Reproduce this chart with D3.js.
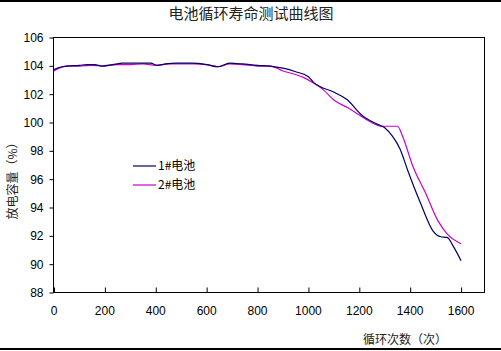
<!DOCTYPE html>
<html>
<head>
<meta charset="utf-8">
<script src="https://cdn.jsdelivr.net/npm/d3@7"></script>
<style>
  body { margin: 0; background: #fff; }
  svg { display: block; }
</style>
</head>
<body>
<svg id="chart" width="501" height="351"></svg>
<script>
// data
const title = "电池循环寿命测试曲线图"
const xTitle = "循环次数（次）"
const yTitle = "放电容量（%）"
const seriesNames = ["1#电池", "2#电池"]
const seriesColors = ["#000066", "#cc00cc"]

const cycles1 = [0, 20, 50, 100, 130, 160, 190, 230, 270, 320, 380, 405, 440, 480, 540, 600, 645, 690, 740, 800, 850, 900, 950, 1000, 1020, 1045, 1095, 1150, 1215, 1270, 1300, 1330, 1360, 1390, 1440, 1490, 1520, 1545, 1570, 1600]
const capacity1 = [103.7, 103.85, 103.95, 104.0, 104.05, 104.05, 103.95, 104.05, 104.15, 104.15, 104.15, 104.0, 104.1, 104.15, 104.15, 104.05, 103.9, 104.15, 104.1, 104.0, 103.95, 103.8, 103.55, 103.2, 102.8, 102.5, 102.15, 101.6, 100.4, 99.85, 99.6, 99.0, 98.1, 96.6, 94.3, 92.3, 91.9, 91.85, 91.2, 90.2]

const cycles2 = [0, 20, 50, 100, 150, 190, 250, 300, 350, 400, 450, 500, 550, 600, 645, 690, 740, 800, 850, 900, 950, 980, 1020, 1060, 1100, 1155, 1200, 1240, 1290, 1350, 1370, 1410, 1460, 1510, 1545, 1600]
const capacity2 = [103.6, 103.8, 103.95, 103.95, 104.0, 103.95, 104.05, 104.05, 104.1, 104.0, 104.1, 104.1, 104.1, 104.05, 103.9, 104.1, 104.05, 103.95, 103.95, 103.6, 103.35, 103.15, 102.75, 102.25, 101.55, 101.0, 100.5, 100.05, 99.7, 99.7, 99.0, 96.9, 95.0, 93.0, 92.1, 91.4]

const xTicks = [0, 200, 400, 600, 800, 1000, 1200, 1400, 1600]
const yTicks = [88, 90, 92, 94, 96, 98, 100, 102, 104, 106]

let svg = d3.select("#chart")
let font = "'Liberation Sans', Arial, sans-serif"
let cjk = "'Noto Sans CJK SC', sans-serif"

// outer frame lines
svg.append("line").attr("x1", 0).attr("x2", 501).attr("y1", 1).attr("y2", 1)
  .attr("stroke", "#000").attr("stroke-width", 2)
svg.append("line").attr("x1", 0).attr("x2", 501).attr("y1", 349).attr("y2", 349)
  .attr("stroke", "#000").attr("stroke-width", 2)

let plotLeft = 54, plotTop = 37, plotRight = 485, plotBottom = 292

let x = d3.scaleLinear().domain([0, 1694]).range([plotLeft, plotRight])
let y = d3.scaleLinear().domain([88, 106]).range([plotBottom, plotTop])

// plot frame
svg.append("rect")
  .attr("x", plotLeft - 0.5).attr("y", plotTop + 0.5)
  .attr("width", plotRight - plotLeft).attr("height", plotBottom - plotTop)
  .attr("fill", "none").attr("stroke", "#000").attr("stroke-width", 1)

// axes
let yAxis = svg.append("g")
  .attr("transform", "translate(" + (plotLeft - 0.5) + ",0.5)")
  .call(d3.axisLeft(y).tickValues(yTicks).tickSize(4).tickPadding(6))
yAxis.select(".domain").remove()

let xAxis = svg.append("g")
  .attr("transform", "translate(0," + (plotBottom + 0.5) + ")")
  .call(d3.axisTop(x).tickValues(xTicks).tickSize(5).tickFormat(""))
xAxis.select(".domain").remove()

svg.append("g").selectAll("text")
  .data(xTicks)
  .enter()
  .append("text")
  .attr("x", d => x(d))
  .attr("y", 315)
  .attr("text-anchor", "middle")
  .text(d => d)

svg.selectAll("g text, text")
  .attr("font-family", font)
  .attr("font-size", "12px")
  .attr("fill", "#000")

// title and axis titles
svg.append("text")
  .attr("x", 251).attr("y", 19)
  .attr("text-anchor", "middle")
  .attr("font-family", cjk).attr("font-size", "15px").attr("fill", "#222")
  .text(title)

svg.append("text")
  .attr("x", 405).attr("y", 344)
  .attr("text-anchor", "middle")
  .attr("font-family", cjk).attr("font-size", "12px").attr("fill", "#222")
  .text(xTitle)

svg.append("text")
  .attr("transform", "translate(17,178) rotate(-90)")
  .attr("text-anchor", "middle")
  .attr("font-family", cjk).attr("font-size", "12px").attr("fill", "#222")
  .text(yTitle)

// series lines
let series = [
  cycles1.map((c, i) => ({ c: c, v: capacity1[i] })),
  cycles2.map((c, i) => ({ c: c, v: capacity2[i] }))
]

let line = d3.line()
  .x(d => x(d.c))
  .y(d => y(d.v))
  .curve(d3.curveMonotoneX)

// draw 2# first so 1# sits on top like the reference
svg.selectAll(".series")
  .data([1, 0])
  .enter()
  .append("path")
  .attr("d", i => line(series[i]))
  .attr("fill", "none")
  .attr("stroke", i => seriesColors[i])
  .attr("stroke-width", 1.2)

// legend
let legend = svg.append("g")
seriesNames.forEach((name, i) => {
  let ly = 166 + i * 19
  legend.append("line")
    .attr("x1", 133).attr("x2", 156)
    .attr("y1", ly).attr("y2", ly)
    .attr("stroke", seriesColors[i]).attr("stroke-width", 1.2)
  legend.append("text")
    .attr("x", 158).attr("y", ly + 4)
    .attr("font-family", cjk).attr("font-size", "12px").attr("fill", "#000")
    .text(name)
})
</script>
</body>
</html>
